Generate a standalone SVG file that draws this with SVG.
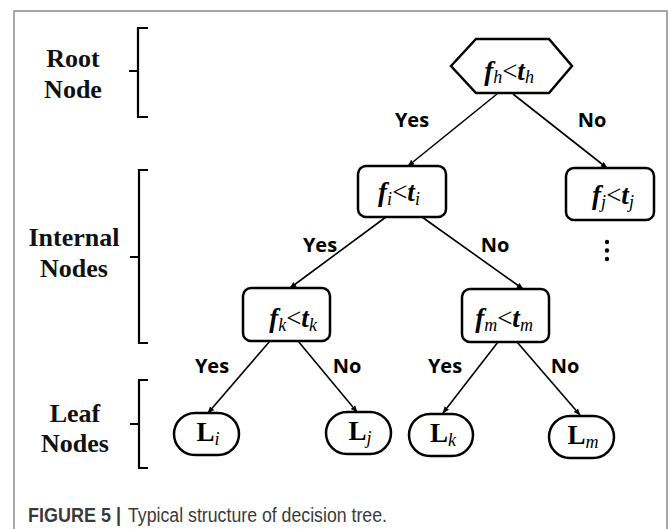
<svg xmlns="http://www.w3.org/2000/svg" width="669" height="529" viewBox="0 0 669 529">
<style>
.frame{fill:none;stroke:#8a8a8a;stroke-width:1.5}
.node{fill:#fff;stroke:#000;stroke-width:2.5}
.brk{fill:none;stroke:#000;stroke-width:2.2}
.edge{stroke:#000;stroke-width:1.6;fill:none;marker-end:url(#ah)}
.lvl{font-family:"Liberation Serif",serif;font-weight:bold;font-size:26px;fill:#111;text-anchor:middle}
.lbl{font-family:"Open Sans","Liberation Sans",sans-serif;font-weight:bold;font-size:20px;fill:#000;text-anchor:middle}
.nt{font-family:"Liberation Serif",serif;font-weight:bold;font-style:italic;font-size:27px;fill:#000;text-anchor:middle}
.up{font-style:normal}
.sub{font-size:18px;font-weight:normal}
.lt{font-style:normal;font-weight:normal}
.cap{font-family:"Liberation Sans",sans-serif;font-size:20px;fill:#3a3a3a}
</style>
<defs>
<marker id="ah" viewBox="0 0 10 10" refX="9" refY="5" markerWidth="7" markerHeight="7" markerUnits="userSpaceOnUse" orient="auto">
<path d="M0,1 L10,5 L0,9 Z" fill="#000"/>
</marker>
</defs>
<rect width="669" height="529" fill="#fff"/>
<path class="frame" d="M14,529 L14,11 L667,11 L667,529"/>

<g id="levels">
<text class="lvl" x="73" y="67">Root</text>
<text class="lvl" x="73" y="98">Node</text>
<path class="brk" d="M148,28 L138,28 L138,117 L148,117 M129,71 L138,71"/>
<text class="lvl" x="74" y="246">Internal</text>
<text class="lvl" x="74" y="277">Nodes</text>
<path class="brk" d="M148,170 L139,170 L139,343 L148,343 M130,257 L139,257"/>
<text class="lvl" x="75" y="422">Leaf</text>
<text class="lvl" x="75" y="452">Nodes</text>
<path class="brk" d="M148,380 L139,380 L139,468 L148,468 M130,424 L139,424"/>
</g>

<g id="connectors">
<line class="edge" x1="497" y1="94" x2="408" y2="166"/>
<line class="edge" x1="513" y1="94" x2="607" y2="168"/>
<line class="edge" x1="386" y1="217" x2="290" y2="288"/>
<line class="edge" x1="422" y1="217" x2="523" y2="289"/>
<line class="edge" x1="270" y1="341" x2="208" y2="413"/>
<line class="edge" x1="298" y1="341" x2="357" y2="412"/>
<line class="edge" x1="498" y1="342" x2="443" y2="413"/>
<line class="edge" x1="517" y1="342" x2="580" y2="415"/>
<text class="lbl" x="412" y="127">Yes</text>
<text class="lbl" x="592" y="127">No</text>
<text class="lbl" x="320" y="252">Yes</text>
<text class="lbl" x="495" y="252">No</text>
<text class="lbl" x="212" y="373">Yes</text>
<text class="lbl" x="347" y="373">No</text>
<text class="lbl" x="445" y="373">Yes</text>
<text class="lbl" x="565" y="373">No</text>
</g>

<g id="root">
<polygon class="node" points="451,66 476,39 549,39 572,66 549,93 476,93"/>
<text class="nt" x="509" y="80">f<tspan class="sub" dy="3">h</tspan><tspan class="lt" dy="-3">&lt;</tspan>t<tspan class="sub" dy="3">h</tspan></text>
</g>
<g id="node-i">
<rect class="node" x="358" y="166" width="88" height="51" rx="8"/>
<text class="nt" x="399" y="201">f<tspan class="sub" dy="4">i</tspan><tspan class="lt" dy="-4">&lt;</tspan>t<tspan class="sub" dy="4">i</tspan></text>
</g>
<g id="node-j">
<rect class="node" x="566" y="168" width="88" height="52" rx="8"/>
<text class="nt" x="613" y="204">f<tspan class="sub" dy="4">j</tspan><tspan class="lt" dy="-4">&lt;</tspan>t<tspan class="sub" dy="4">j</tspan></text>
</g>
<g id="more">
<circle cx="607" cy="242" r="2.2" fill="#000"/>
<circle cx="607" cy="250.5" r="2.2" fill="#000"/>
<circle cx="607" cy="259" r="2.2" fill="#000"/>
</g>
<g id="node-k">
<rect class="node" x="243" y="288" width="87" height="53" rx="8"/>
<text class="nt" x="293" y="327">f<tspan class="sub" dy="4">k</tspan><tspan class="lt" dy="-4">&lt;</tspan>t<tspan class="sub" dy="4">k</tspan></text>
</g>
<g id="node-m">
<rect class="node" x="462" y="289" width="87" height="53" rx="8"/>
<text class="nt" x="504" y="327">f<tspan class="sub" dy="4">m</tspan><tspan class="lt" dy="-4">&lt;</tspan>t<tspan class="sub" dy="4">m</tspan></text>
</g>
<g id="leaf-i">
<rect class="node" x="174" y="413" width="65" height="42" rx="21"/>
<text class="nt up" x="208" y="441">L<tspan class="sub" style="font-style:italic" dy="4">i</tspan></text>
</g>
<g id="leaf-j">
<rect class="node" x="326" y="412" width="65" height="42" rx="21"/>
<text class="nt up" x="360" y="440">L<tspan class="sub" style="font-style:italic" dy="4">j</tspan></text>
</g>
<g id="leaf-k">
<rect class="node" x="409" y="414" width="64" height="42" rx="21"/>
<text class="nt up" x="443" y="442">L<tspan class="sub" style="font-style:italic" dy="4">k</tspan></text>
</g>
<g id="leaf-m">
<rect class="node" x="549" y="416" width="65" height="42" rx="21"/>
<text class="nt up" x="583" y="444">L<tspan class="sub" style="font-style:italic" dy="4">m</tspan></text>
</g>

<text class="cap" x="28" y="522" font-weight="bold" fill="#222" textLength="93" lengthAdjust="spacingAndGlyphs">FIGURE 5 |</text>
<text class="cap" x="128" y="522" textLength="259" lengthAdjust="spacingAndGlyphs">Typical structure of decision tree.</text>
</svg>
